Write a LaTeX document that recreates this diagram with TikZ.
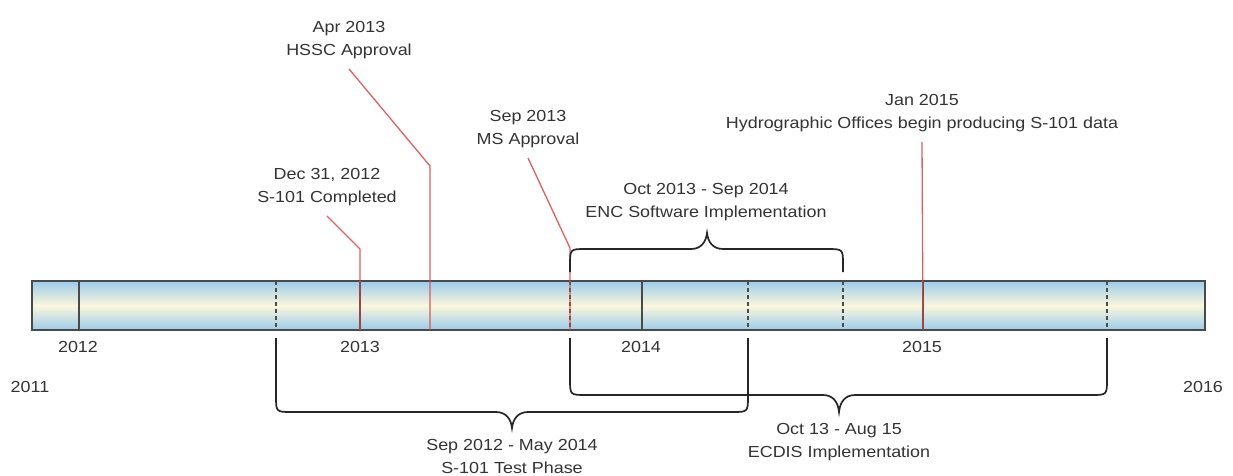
\documentclass[tikz,border=0pt]{standalone}
\usepackage{fontspec}
\setmainfont{Liberation Sans}[FakeStretch=1.12]
\usepackage{tikz}
\usetikzlibrary{calc}
\definecolor{Ink}{HTML}{333333}
\definecolor{Edge}{HTML}{4A4A4A}
\definecolor{Sky}{HTML}{9CCBEA}
\definecolor{Cream}{HTML}{FBF7DD}
\definecolor{Mark}{HTML}{D64545}

\begin{document}
\begin{tikzpicture}[x=1pt,y=-1pt,font=\fontsize{16}{23}\selectfont,
    lbl/.style={text=Ink,align=center,inner sep=0pt},
    event/.style={lbl,inner ysep=10pt},
    callout/.style={Mark,line width=1.3pt,opacity=.85},
    yeartick/.style={Edge,line width=1.2pt},
    halftick/.style={Edge,line width=1.2pt,dash pattern=on 4pt off 3pt},
    brace/.style={draw=black!85,line width=1.7pt}]
  \useasboundingbox (0,0) rectangle (1233,475);
  % timeline bar
  \node[draw=Edge,line width=1.3pt,top color=Sky,bottom color=Sky,middle color=Cream,minimum width=1173pt,minimum height=49pt,inner sep=0pt] (bar) at (618.5,305.5) {};
  \foreach \x in {79,360,642,923} \draw[yeartick] (\x,281) -- (\x,330);
  \foreach \x in {276,570,748,843,1107} \draw[halftick] (\x,281) -- (\x,330);
  % years
  \node[lbl] (y2011) at (30,387) {2011};
  \node[lbl] (y2012) at (78,347) {2012};
  \node[lbl] (y2013) at (360,347) {2013};
  \node[lbl] (y2014) at (641,347) {2014};
  \node[lbl] (y2015) at (922,347) {2015};
  \node[lbl] (y2016) at (1203,387) {2016};
  % milestones
  \node[event] (apr) at (349,40) {Apr 2013\\HSSC Approval};
  \node[event] (dec) at (327,187) {Dec 31, 2012\\S-101 Completed};
  \node[event] (sep) at (528,129) {Sep 2013\\MS Approval};
  \node[event] (jan) at (922,113) {Jan 2015\\Hydrographic Offices begin producing S-101 data};
  \coordinate (apr-bend) at (430,166);
  \coordinate (apr-mark) at (430,330);
  \coordinate (dec-bend) at (360,249);
  \coordinate (dec-mark) at (360,330);
  \coordinate (sep-bend) at (570,248);
  \coordinate (sep-mark) at (570,330);
  \coordinate (jan-mark) at (923,330);
  \draw[callout] (apr.south) -- (apr-bend) -- (apr-mark);
  \draw[callout] (dec.south) -- (dec-bend) -- (dec-mark);
  \draw[callout] (sep.south) -- (sep-bend) -- (sep-mark);
  \draw[callout] (jan.south) -- (jan-mark);
  % periods
  \node[lbl] (enc) at (706,202) {Oct 2013 - Sep 2014\\ENC Software Implementation};
  \draw[brace] (570,272) -- (570,265) .. controls (570,249) .. (586,249) -- (691,249)
    .. controls (701,249) and (706,242) .. (707,233) .. controls (708,242) and (713,249) .. (723,249)
    -- (827,249) .. controls (843,249) .. (843,265) -- (843,272);
  \node[lbl] (test) at (512,456) {Sep 2012 - May 2014\\S-101 Test Phase};
  \draw[brace] (276,338) -- (276,396) .. controls (276,412) .. (292,412) -- (496,412)
    .. controls (506,412) and (511,419) .. (512,428) .. controls (513,419) and (518,412) .. (528,412)
    -- (732,412) .. controls (748,412) .. (748,396) -- (748,338);
  \node[lbl] (ecdis) at (839,442) {Oct 13 - Aug 15\\ECDIS Implementation};
  \draw[brace] (570,338) -- (570,379) .. controls (570,395) .. (586,395) -- (823,395)
    .. controls (833,395) and (838,402) .. (839,412) .. controls (840,402) and (845,395) .. (855,395)
    -- (1091,395) .. controls (1107,395) .. (1107,379) -- (1107,338);
\end{tikzpicture}
\end{document}
